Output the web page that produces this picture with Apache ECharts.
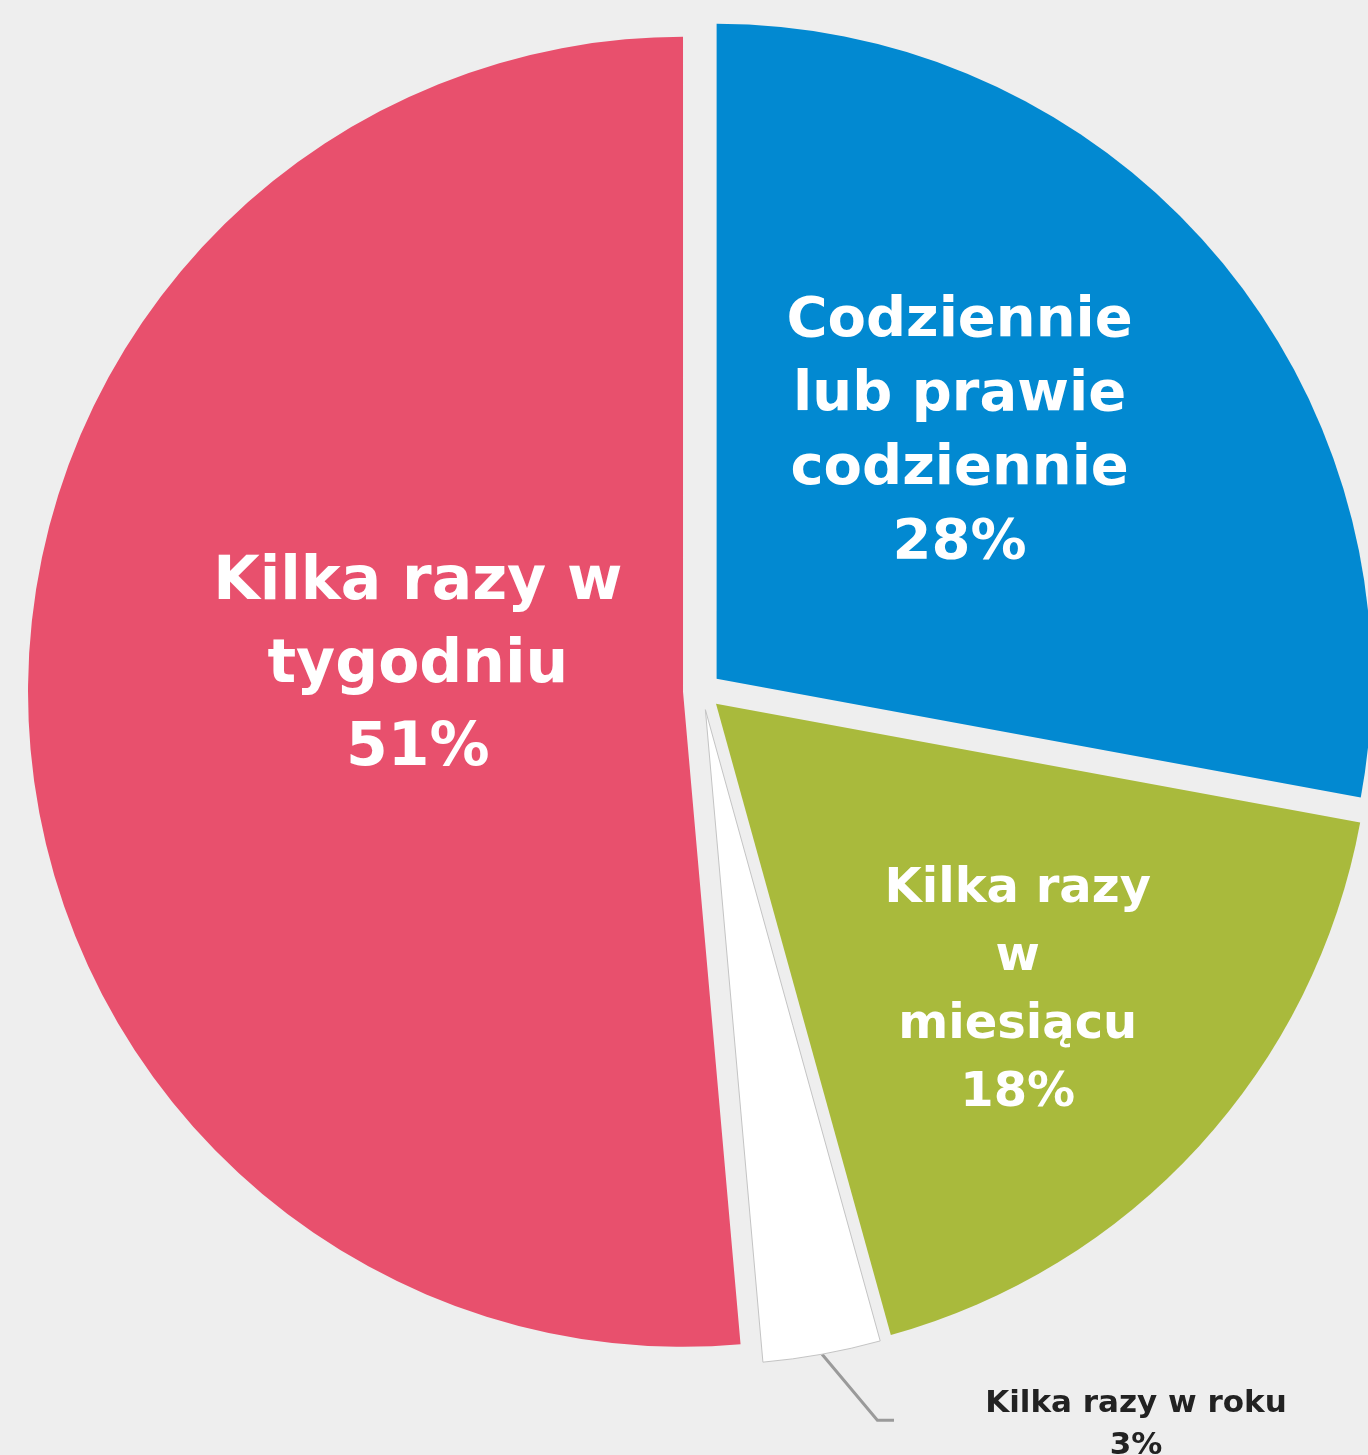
<!DOCTYPE html>
<html>
<head>
<meta charset="utf-8">
<script src="https://cdn.jsdelivr.net/npm/echarts@6/dist/echarts.min.js"></script>
<style>
  html, body { margin: 0; padding: 0; background: #eeeeee; }
  #main { width: 1368px; height: 1455px; }
</style>
</head>
<body>
<div id="main"></div>
<script>
var categories = ['Codziennie\nlub prawie\ncodziennie', 'Kilka razy\nw\nmiesiącu', 'Kilka razy w roku', 'Kilka razy w\ntygodniu'];
var shares = [27.9, 17.8, 2.9, 51.4];
var colors = ['#0289d1', '#a9ba3c', '#ffffff', '#e8506d'];

// label tweaks per slice
var fontSizes = [56, 48, 31, 60];
var lineHeights = [74, 68, 42, 83];
var labelShift = [[-11, -35], [58, 65], [0, 0], [65, -40]];

var myChart = echarts.init(document.getElementById('main'));

var pieData = categories.map(function (name, i) {
  var item = {
    name: name,
    value: shares[i],
    selected: true,
    itemStyle: { color: colors[i] },
    label: {
      position: 'inside',
      color: '#ffffff',
      fontSize: fontSizes[i],
      lineHeight: lineHeights[i]
    }
  };
  if (i === 2) {
    item.itemStyle.borderColor = '#c4c4c4';
    item.itemStyle.borderWidth = 1;
    item.label = {
      position: 'outside',
      padding: [10, 0, 0, 0],
      formatter: '{t|{b}}\n{t|{d}%}',
      rich: {
        t: {
          width: 474,
          align: 'center',
          color: '#222222',
          fontSize: fontSizes[i],
          lineHeight: lineHeights[i],
          fontWeight: 'bold',
          fontFamily: 'DejaVu Sans'
        }
      }
    };
    item.labelLine = {
      show: true,
      length: 67,
      length2: 60,
      minTurnAngle: 130,
      lineStyle: { color: '#9a9a9a', width: 3 }
    };
  }
  return item;
});

var option = {
  backgroundColor: '#eeeeee',
  animation: false,
  series: [
    {
      type: 'pie',
      center: [702, 691],
      radius: 655,
      startAngle: 90,
      clockwise: true,
      selectedMode: 'multiple',
      selectedOffset: 19,
      percentPrecision: 0,
      avoidLabelOverlap: false,
      emphasis: { disabled: true },
      label: {
        formatter: '{b}\n{d}%',
        fontFamily: 'DejaVu Sans',
        fontWeight: 'bold'
      },
      labelLine: { show: false },
      labelLayout: function (params) {
        var s = labelShift[params.dataIndex];
        if (!s[0] && !s[1]) return {};
        return { dx: s[0], dy: s[1] };
      },
      data: pieData
    }
  ]
};

myChart.setOption(option);
</script>
</body>
</html>
